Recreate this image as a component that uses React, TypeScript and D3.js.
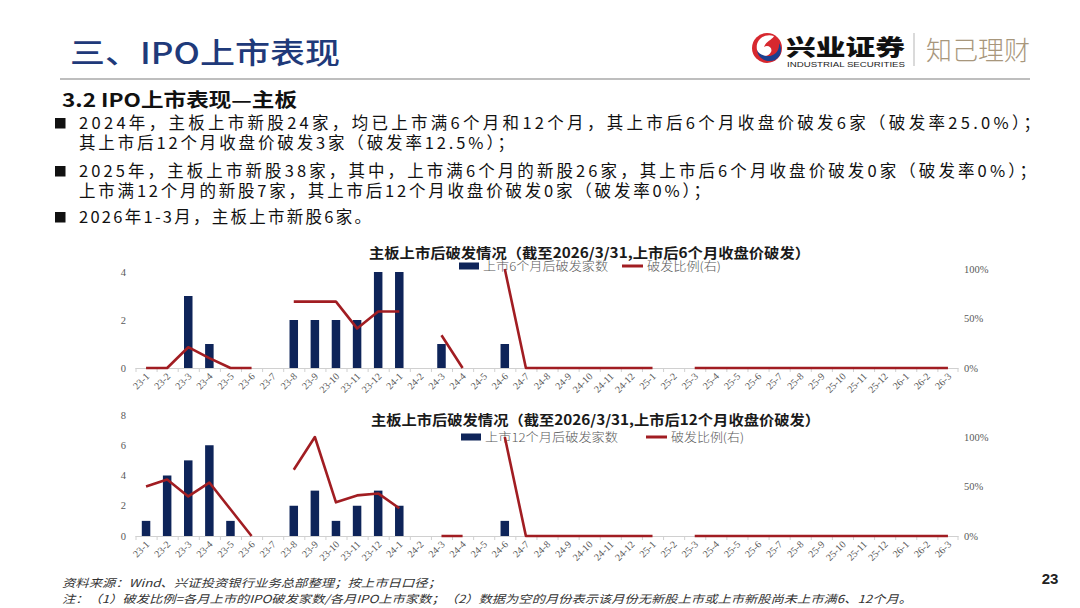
import React from 'react';
import * as d3 from 'd3';

const months = ['23-1','23-2','23-3','23-4','23-5','23-6','23-7','23-8','23-9','23-10','23-11','23-12',
  '24-1','24-2','24-3','24-4','24-5','24-6','24-7','24-8','24-9','24-10','24-11','24-12',
  '25-1','25-2','25-3','25-4','25-5','25-6','25-7','25-8','25-9','25-10','25-11','25-12',
  '26-1','26-2','26-3'];

const count6: (number | null)[] = [0,0,3,1,0,0,null,2,2,2,2,4,
  4,null,1,0,null,1,0,0,0,0,0,0,
  0,null,0,0,0,0,0,0,0,0,0,0,
  0,0,0];
const ratio6: (number | null)[] = [0,0,0.21,0.1,0,0,null,0.67,0.67,0.67,0.4,0.57,
  0.57,null,0.33,0,null,1,0,0,0,0,0,0,
  0,null,0,0,0,0,0,0,0,0,0,0,
  0,0,0];
const count12: (number | null)[] = [1,4,5,6,1,0,null,2,3,1,2,3,
  2,null,0,0,null,1,0,0,0,0,0,0,
  0,null,0,0,0,0,0,0,0,0,0,0,
  0,0,0];
const ratio12: (number | null)[] = [0.5,0.57,0.4,0.54,0.27,0,null,0.67,1,0.34,0.41,0.43,
  0.28,null,0,0,null,1,0,0,0,0,0,0,
  0,null,0,0,0,0,0,0,0,0,0,0,
  0,0,0];

const leftTicks6 = [0, 2, 4];
const leftTicks12 = [0, 2, 4, 6, 8];
const rightTicks = [0, 0.5, 1];

const bullets = [
  { text: '2024年，主板上市新股24家，均已上市满6个月和12个月，其上市后6个月收盘价破发6家（破发率25.0%）；', x: 79, y: 129, len: 961, mark: true },
  { text: '其上市后12个月收盘价破发3家（破发率12.5%）；', x: 79, y: 149, len: 435, mark: false },
  { text: '2025年，主板上市新股38家，其中，上市满6个月的新股26家，其上市后6个月收盘价破发0家（破发率0%）；', x: 79, y: 177, len: 957, mark: true },
  { text: '上市满12个月的新股7家，其上市后12个月收盘价破发0家（破发率0%）；', x: 79, y: 197, len: 631, mark: false },
  { text: '2026年1-3月，主板上市新股6家。', x: 79, y: 223, len: 292, mark: true },
];

const NAVY = '#0E2459';
const RED = '#A11D22';
const CJK = '"Noto Sans CJK SC", sans-serif';
const SERIF = '"Liberation Serif", "DejaVu Serif", serif';

type ChartProps = {
  counts: (number | null)[];
  ratios: (number | null)[];
  leftMax: number;
  leftTicks: number[];
  y0: number;
  yTopLeft: number;
  yTopRight: number;
  title: string;
  titleX: number;
  titleY: number;
  titleLen: number;
  legendY: number;
  legendBarX: number;
  legendBarLabel: string;
  legendBarLen: number;
  legendLineX: number;
  legendLineLen: number;
};

function Chart(p: ChartProps) {
  const x = d3.scaleBand<string>().domain(months).range([135.5, 958.5]).padding(0);
  const yl = d3.scaleLinear().domain([0, p.leftMax]).range([p.y0, p.yTopLeft]);
  const yr = d3.scaleLinear().domain([0, 1]).range([p.y0, p.yTopRight]);
  const bw = 8.5;
  const line = d3.line<number | null>()
    .defined(d => d != null)
    .x((_, i) => (x(months[i]) as number) + x.bandwidth() / 2)
    .y(d => yr(d as number));
  const path = line(p.ratios) || '';
  const [r0, r1] = x.range();
  return (
    <g>
      <text x={p.titleX} y={p.titleY} fontFamily={CJK} fontWeight={700} fontSize={14} fill="#1a1a1a"
        textLength={p.titleLen} lengthAdjust="spacingAndGlyphs">{p.title}</text>
      {/* legend */}
      <rect x={p.legendBarX} y={p.legendY - 3.5} width={20} height={7} fill={NAVY} />
      <text x={p.legendBarX + 24} y={p.legendY + 5} fontFamily={CJK} fontSize={12} fill="#595959"
        fontWeight={300} textLength={p.legendBarLen} lengthAdjust="spacingAndGlyphs">{p.legendBarLabel}</text>
      <line x1={p.legendLineX} x2={p.legendLineX + 21} y1={p.legendY} y2={p.legendY} stroke={RED} strokeWidth={3} />
      <text x={p.legendLineX + 25} y={p.legendY + 5} fontFamily={CJK} fontSize={12} fill="#595959"
        fontWeight={300} textLength={p.legendLineLen} lengthAdjust="spacingAndGlyphs">破发比例(右)</text>
      {/* axis */}
      <line x1={r0} x2={r1} y1={p.y0 + 0.5} y2={p.y0 + 0.5} stroke="#D0D0D0" strokeWidth={1} />
      {months.map((m) => (
        <line key={'t' + m} x1={(x(m) as number) + 0.5} x2={(x(m) as number) + 0.5} y1={p.y0} y2={p.y0 + 4}
          stroke="#D0D0D0" strokeWidth={1} />
      ))}
      <line x1={r1 - 0.5} x2={r1 - 0.5} y1={p.y0} y2={p.y0 + 4} stroke="#D0D0D0" strokeWidth={1} />
      {months.map(m => {
        const cx = (x(m) as number) + x.bandwidth() / 2;
        return (
          <text key={'l' + m} transform={`translate(${cx + 4},${p.y0 + 9}) rotate(-45)`} textAnchor="end"
            fontFamily={SERIF} fontSize={10} fill="#595959">{m}</text>
        );
      })}
      {p.leftTicks.map(t => (
        <text key={'yl' + t} x={126} y={yl(t) + 3.5} textAnchor="end" fontFamily={SERIF} fontSize={10.5} fill="#595959">{t}</text>
      ))}
      {rightTicks.map(t => (
        <text key={'yr' + t} x={964} y={yr(t) + 3.5} textAnchor="start" fontFamily={SERIF} fontSize={10.5} fill="#595959">
          {d3.format('.0%')(t)}
        </text>
      ))}
      {p.counts.map((v, i) => v ? (
        <rect key={'b' + i} x={(x(months[i]) as number) + x.bandwidth() / 2 - bw / 2} y={yl(v)} width={bw}
          height={p.y0 - yl(v)} fill={NAVY} />
      ) : null)}
      <path d={path} fill="none" stroke={RED} strokeWidth={2.6} strokeLinejoin="round" />
    </g>
  );
}

function Logo() {
  return (
    <g>
      <circle cx={767} cy={48} r={15} fill="#D7282F" />
      <path d="M774,36 C764,33 755,40 757,50 C759,57 768,58 771,52 C773,48 768,44 764,47 C766,41 772,40 774,36 Z" fill="#ffffff" />
      <path d="M757,50 C758,59 767,63 775,60 C781,57 783,49 779,43 C780,51 774,57 766,56 C761,55 758,53 757,50 Z" fill="#1B3F8F" />
      <text x={786} y={55} fontFamily={CJK} fontWeight={900} fontSize={22} fill="#111" textLength={119}
        lengthAdjust="spacingAndGlyphs">兴业证券</text>
      <text x={787} y={66.5} fontFamily='"Liberation Sans", Arial, sans-serif' fontSize={7} fill="#222" textLength={118}
        lengthAdjust="spacingAndGlyphs">INDUSTRIAL SECURITIES</text>
      <line x1={914} x2={914} y1={33} y2={66} stroke="#B5B5B5" strokeWidth={1} />
      <text x={926} y={60} fontFamily={CJK} fontWeight={300} fontSize={26} fill="#A8977C" textLength={104}
        lengthAdjust="spacingAndGlyphs">知己理财</text>
    </g>
  );
}

export default function App() {
  return (
    <div style={{ position: 'absolute', left: 0, top: 0, width: 1080, height: 608, background: '#fff' }}>
      <svg width={1080} height={608} viewBox="0 0 1080 608" style={{ display: 'block' }}>
        <rect x={0} y={0} width={1080} height={608} fill="#fff" />
        <text x={70} y={64} fontFamily={CJK} fontWeight={500} fontSize={29} fill="#1F3A7A" textLength={270}
          lengthAdjust="spacingAndGlyphs">三、IPO上市表现</text>
        <Logo />
        <line x1={60} x2={1030} y1={79} y2={79} stroke="#A8A8A8" strokeWidth={1.5} />
        <text x={62} y={107} fontFamily={CJK} fontWeight={700} fontSize={19} fill="#111" textLength={235}
          lengthAdjust="spacingAndGlyphs">3.2 IPO上市表现—主板</text>
        {bullets.map((b, i) => (
          <g key={'bl' + i}>
            {b.mark ? <rect x={55} y={b.y - 11} width={10.5} height={10.5} fill="#111" /> : null}
            <text x={b.x} y={b.y} fontFamily={CJK} fontSize={16.5} fill="#111" textLength={b.len}
              lengthAdjust="spacing">{b.text}</text>
          </g>
        ))}
        <Chart counts={count6} ratios={ratio6} leftMax={4} leftTicks={leftTicks6} y0={368} yTopLeft={272} yTopRight={269}
          title="主板上市后破发情况（截至2026/3/31,上市后6个月收盘价破发）" titleX={369} titleY={258} titleLen={441}
          legendY={266} legendBarX={459} legendBarLabel="上市6个月后破发家数" legendBarLen={125}
          legendLineX={622} legendLineLen={74} />
        <Chart counts={count12} ratios={ratio12} leftMax={8} leftTicks={leftTicks12} y0={536} yTopLeft={415} yTopRight={437}
          title="主板上市后破发情况（截至2026/3/31,上市后12个月收盘价破发）" titleX={371} titleY={425} titleLen={449}
          legendY={437} legendBarX={461} legendBarLabel="上市12个月后破发家数" legendBarLen={133}
          legendLineX={646} legendLineLen={73} />
        <text x={62} y={587} fontFamily={CJK} fontStyle="italic" fontSize={11} fill="#333" textLength={379}
          lengthAdjust="spacingAndGlyphs">资料来源：Wind、兴证投资银行业务总部整理；按上市日口径；</text>
        <text x={62} y={603} fontFamily={CJK} fontStyle="italic" fontSize={11} fill="#333" textLength={850}
          lengthAdjust="spacingAndGlyphs">注：（1）破发比例=各月上市的IPO破发家数/各月IPO上市家数；（2）数据为空的月份表示该月份无新股上市或上市新股尚未上市满6、12个月。</text>
        <text x={1050} y={584} textAnchor="middle" fontFamily='"Liberation Sans", Arial, sans-serif' fontWeight={700}
          fontSize={15} fill="#222">23</text>
      </svg>
    </div>
  );
}
